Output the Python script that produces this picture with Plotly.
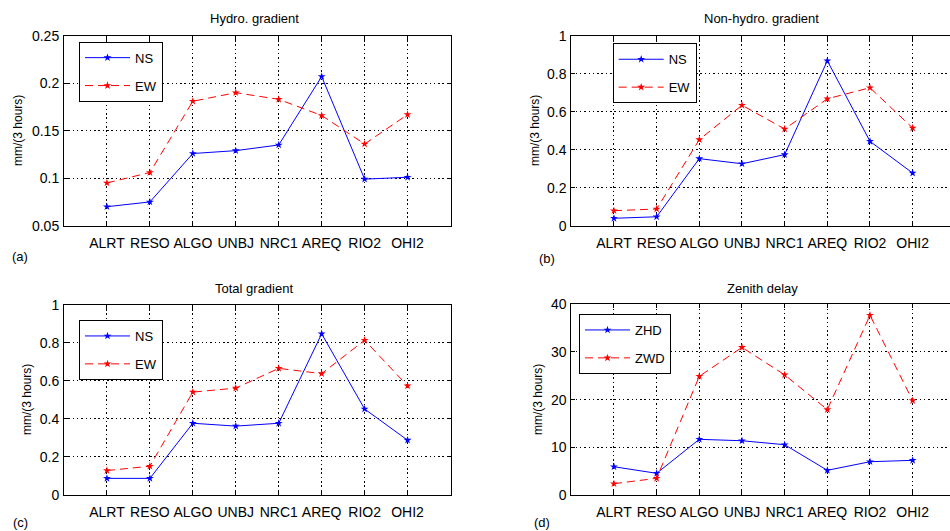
import plotly.graph_objects as go

stations = ["ALRT", "RESO", "ALGO", "UNBJ", "NRC1", "AREQ", "RIO2", "OHI2"]

hydro_ns = [0.070, 0.075, 0.126, 0.129, 0.135, 0.207, 0.099, 0.101]
hydro_ew = [0.095, 0.106, 0.181, 0.190, 0.183, 0.166, 0.136, 0.167]

nonhydro_ns = [0.039, 0.047, 0.353, 0.326, 0.374, 0.868, 0.444, 0.277]
nonhydro_ew = [0.079, 0.088, 0.453, 0.634, 0.509, 0.668, 0.726, 0.514]

total_ns = [0.086, 0.086, 0.376, 0.361, 0.376, 0.847, 0.451, 0.287]
total_ew = [0.127, 0.150, 0.540, 0.561, 0.665, 0.637, 0.813, 0.573]

zenith_zhd = [5.93, 4.55, 11.68, 11.38, 10.55, 5.18, 6.98, 7.27]
zenith_zwd = [2.37, 3.50, 24.9, 30.96, 25.2, 17.9, 37.7, 19.8]

ticks_a = [0.05, 0.1, 0.15, 0.2, 0.25]
ticktext_a = ["0.05", "0.1", "0.15", "0.2", "0.25"]
ticks_bc = [0, 0.2, 0.4, 0.6, 0.8, 1.0]
ticktext_bc = ["0", "0.2", "0.4", "0.6", "0.8", "1"]
ticks_d = [0, 10, 20, 30, 40]
ticktext_d = ["0", "10", "20", "30", "40"]

titles = ["Hydro. gradient", "Non-hydro. gradient", "Total gradient", "Zenith delay"]
panel_labels = ["(a)", "(b)", "(c)", "(d)"]
ylabel = "mm/(3 hours)"

W, H = 950, 531
FONT = "Liberation Sans, Arial, sans-serif"
BLUE = "#0000ff"
RED = "#ff0000"


def px(x):
    return x / W


def py(y):
    return 1 - y / H


fig = go.Figure()

panels = [
    dict(ns=hydro_ns, ew=hydro_ew, names=("NS", "EW"), yr=[0.05, 0.25], tv=ticks_a, tt=ticktext_a,
         xd=[px(64), px(450.5)], yd=[py(225.7), py(35.7)], xr=[-1, 8], right=False,
         leg=(79, 41.7)),
    dict(ns=nonhydro_ns, ew=nonhydro_ew, names=("NS", "EW"), yr=[0, 1], tv=ticks_bc, tt=ticktext_bc,
         xd=[px(571.3), 1.0], yd=[py(225.7), py(35.7)], xr=[-1, -1 + (950 - 571.3) / 42.67], right=True,
         leg=(612.7, 43.3)),
    dict(ns=total_ns, ew=total_ew, names=("NS", "EW"), yr=[0, 1], tv=ticks_bc, tt=ticktext_bc,
         xd=[px(64), px(450.5)], yd=[py(494.7), py(304.7)], xr=[-1, 8], right=False,
         leg=(79, 320)),
    dict(ns=zenith_zhd, ew=zenith_zwd, names=("ZHD", "ZWD"), yr=[0, 40], tv=ticks_d, tt=ticktext_d,
         xd=[px(571.3), 1.0], yd=[py(495), py(304.3)], xr=[-1, -1 + (950 - 571.3) / 42.67], right=True,
         leg=(579, 314)),
]

annotations = []
for i, p in enumerate(panels):
    k = "" if i == 0 else str(i + 1)
    leg = "legend" + k
    fig.add_trace(go.Scatter(
        x=stations, y=p["ns"], name=p["names"][0], mode="lines+markers",
        line=dict(color=BLUE, width=1), marker=dict(symbol="star", size=6, color=BLUE),
        xaxis="x" + k, yaxis="y" + k, legend=leg, legendgroup=f"g{i}a"))
    fig.add_trace(go.Scatter(
        x=stations, y=p["ew"], name=p["names"][1], mode="lines+markers",
        line=dict(color=RED, width=1, dash="8px,5px"), marker=dict(symbol="star", size=6, color=RED),
        xaxis="x" + k, yaxis="y" + k, legend=leg, legendgroup=f"g{i}b"))

    axcommon = dict(showline=True, linecolor="black", linewidth=1, ticks="inside", ticklen=4,
                    tickcolor="black", showgrid=True, gridcolor="#000000", gridwidth=1,
                    griddash="1.5px,2.8px", zeroline=False, automargin=False,
                    tickfont=dict(family=FONT, size=14, color="black"))
    fig.layout["xaxis" + k] = dict(axcommon, domain=p["xd"], anchor="y" + k, type="category",
                                   categoryarray=stations, range=p["xr"], mirror="ticks",
                                   tickson="labels", ticklabelstandoff=4)
    fig.layout["yaxis" + k] = dict(axcommon, domain=p["yd"], anchor="x" + k, range=p["yr"],
                                   tickvals=p["tv"], ticktext=p["tt"],
                                   mirror=(False if p["right"] else "ticks"), ticklabelstandoff=1)
    fig.layout[leg] = dict(x=px(p["leg"][0]), y=py(p["leg"][1]), xanchor="left", yanchor="top",
                           bgcolor="white", bordercolor="black", borderwidth=1,
                           font=dict(family=FONT, size=13, color="black"),
                           itemwidth=45, tracegroupgap=8)

# text annotations
title_pos = [(254, 18), (761, 18), (254, 288.5), (762, 288.5)]
lab_pos = [(20, 257), (547, 258), (20, 522.5), (542, 522.5)]
ylab_pos = [(18, 131), (535, 131), (27, 400), (538, 400)]
for i in range(4):
    for txt, pos, size, ang in ((titles[i], title_pos[i], 13, 0),
                                (panel_labels[i], lab_pos[i], 13, 0),
                                (ylabel, ylab_pos[i], 12, -90)):
        annotations.append(dict(text=txt, x=px(pos[0]), y=py(pos[1]), xref="paper", yref="paper",
                                xanchor="center", yanchor="middle", showarrow=False,
                                textangle=ang, font=dict(family=FONT, size=size, color="black")))

fig.update_layout(width=W, height=H, margin=dict(l=0, r=0, t=0, b=0, autoexpand=False),
                  plot_bgcolor="white", paper_bgcolor="white", annotations=annotations,
                  showlegend=True)

fig.write_html("out.html", config={"displayModeBar": False},
               post_script="document.body.style.margin='0';document.body.style.overflow='hidden';")
